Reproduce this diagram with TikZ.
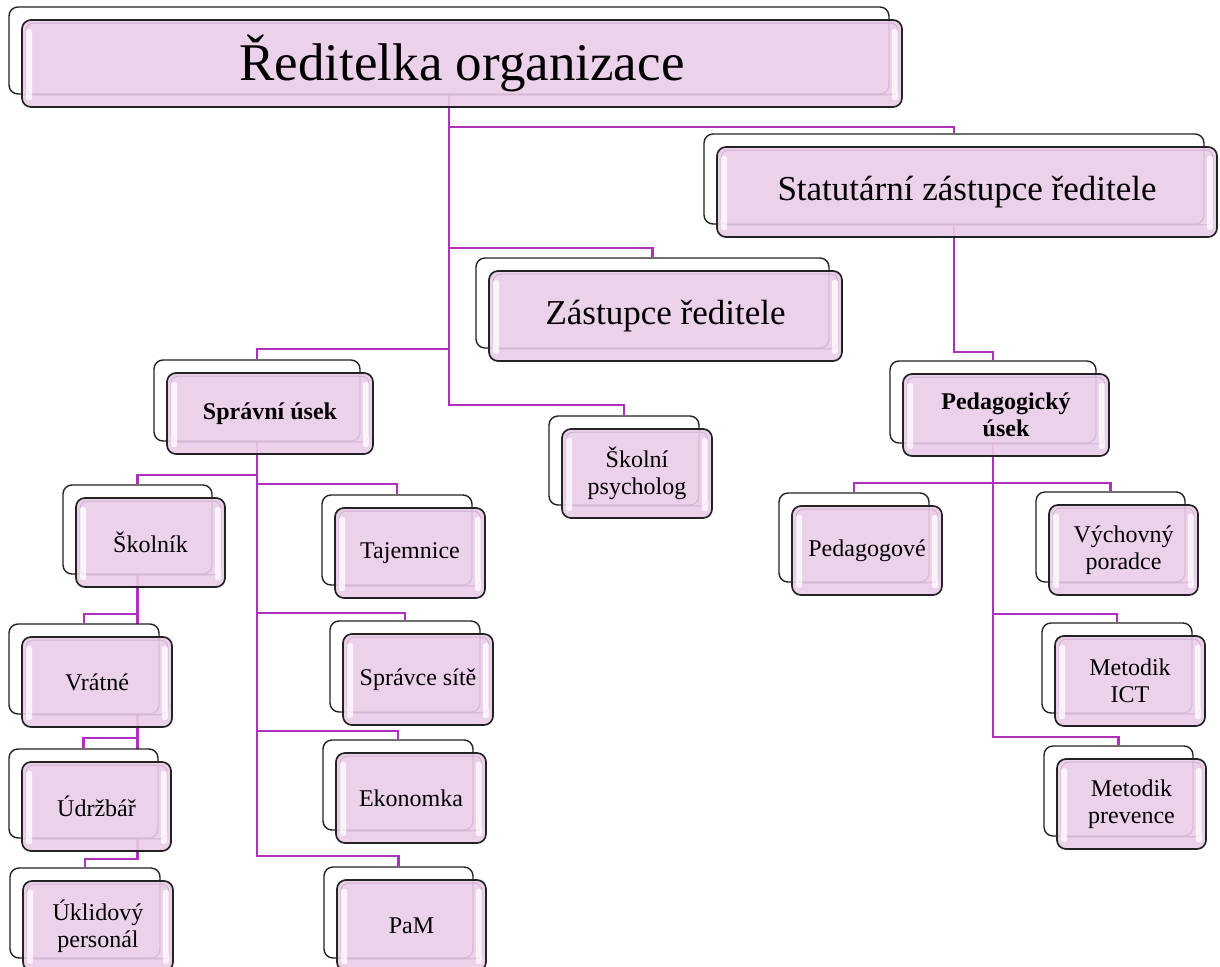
\documentclass[tikz,border=0pt]{standalone}
\usepackage{fontspec}
\setmainfont{Liberation Serif}
\usetikzlibrary{backgrounds}
\definecolor{pinkbase}{RGB}{235,205,232}
\definecolor{conncol}{RGB}{176,48,190}
\definecolor{edgecol}{RGB}{35,35,35}
\definecolor{innerline}{RGB}{210,176,210}
\tikzset{
  backbox/.style={draw=edgecol, line width=1.4pt, fill=white, rounded corners=9pt, inner sep=0pt},
  frontbox/.style={draw=edgecol, line width=1.7pt, fill=pinkbase, fill opacity=0.9, draw opacity=1, rounded corners=9pt, inner sep=0pt},
  conn/.style={draw=conncol, line width=2.3pt},
  gloss/.style={fill=white, opacity=0.75, rounded corners=2pt},
  innerrim/.style={draw=innerline, line width=0.9pt, rounded corners=7pt},
  boxtext/.style={align=center, inner sep=0pt, text=black},
}
\newcommand\orgnode[7]{%
  \node[backbox, minimum width={(#4-#2)*1pt}, minimum height={(#5-#3)*1pt}] (#1B) at ({(#2+#4)/2-13},{(#3+#5)/2-13}) {};
  \node[frontbox, minimum width={(#4-#2)*1pt}, minimum height={(#5-#3)*1pt}] (#1) at ({(#2+#4)/2},{(#3+#5)/2}) {};
  \draw[innerrim] ([shift={(5,4)}]#1.north west) rectangle ([shift={(-5,-13)}]#1.south east);
  \fill[gloss] ([shift={(5,10)}]#1.north west) rectangle ([shift={(11,-8)}]#1.south west);
  \fill[gloss] ([shift={(-11,10)}]#1.north east) rectangle ([shift={(-5,-8)}]#1.south east);
  \node[boxtext, font={#6}] (#1T) at (#1.center) {#7};
}
\newcommand\link[3]{%
  \path (0,#3) coordinate (tmpy);
  \draw[conn] (#1B.south) |- (#2B.north |- tmpy) -- (#2B.north);
}
\newcommand\fsbig{\fontsize{53}{60}\selectfont}
\newcommand\fsmid{\fontsize{35}{40}\selectfont}
\newcommand\fssm{\fontsize{24}{27}\selectfont}
\begin{document}
\begin{tikzpicture}[x=1pt, y=-1pt]
\useasboundingbox (0,0) rectangle (1220,966);
\orgnode{top}{22}{20}{902}{107}{\fsbig}{Ředitelka organizace}
\orgnode{stat}{717}{147}{1217}{237}{\fsmid}{Statutární zástupce ředitele}
\orgnode{zast}{489}{271}{842}{361}{\fsmid}{Zástupce ředitele}
\orgnode{sprav}{167}{373}{373}{454}{\fssm\bfseries}{Správní úsek}
\orgnode{psych}{562}{429}{712}{518}{\fssm}{Školní\\psycholog}
\orgnode{ped}{903}{374}{1109}{456}{\fssm\bfseries}{Pedagogický\\úsek}
\orgnode{skoln}{76}{498}{225}{587}{\fssm}{Školník}
\orgnode{vrat}{22}{637}{172}{727}{\fssm}{Vrátné}
\orgnode{udrz}{22}{762}{171}{851}{\fssm}{Údržbář}
\orgnode{uklid}{23}{881}{173}{971}{\fssm}{Úklidový\\personál}
\orgnode{taj}{335}{508}{485}{598}{\fssm}{Tajemnice}
\orgnode{sit}{343}{634}{493}{725}{\fssm}{Správce sítě}
\orgnode{eko}{336}{753}{486}{843}{\fssm}{Ekonomka}
\orgnode{pam}{337}{880}{486}{971}{\fssm}{PaM}
\orgnode{pedg}{792}{506}{942}{595}{\fssm}{Pedagogové}
\orgnode{vych}{1049}{505}{1198}{595}{\fssm}{Výchovný\\poradce}
\orgnode{ict}{1055}{636}{1205}{726}{\fssm}{Metodik\\ICT}
\orgnode{prev}{1057}{759}{1206}{849}{\fssm}{Metodik\\prevence}
\begin{scope}[on background layer]
\fill[white] (0,0) rectangle (1220,966);
\link{top}{stat}{127}
\link{top}{zast}{248}
\link{top}{sprav}{349}
\link{top}{psych}{405}
\link{stat}{ped}{352}
\link{sprav}{skoln}{475}
\link{sprav}{taj}{484}
\link{sprav}{sit}{613}
\link{sprav}{eko}{731}
\link{sprav}{pam}{856}
\link{skoln}{vrat}{614}
\link{skoln}{udrz}{738}
\link{skoln}{uklid}{859}
\link{ped}{pedg}{483}
\link{ped}{vych}{483}
\link{ped}{ict}{614}
\link{ped}{prev}{737}
\end{scope}
\end{tikzpicture}
\end{document}
